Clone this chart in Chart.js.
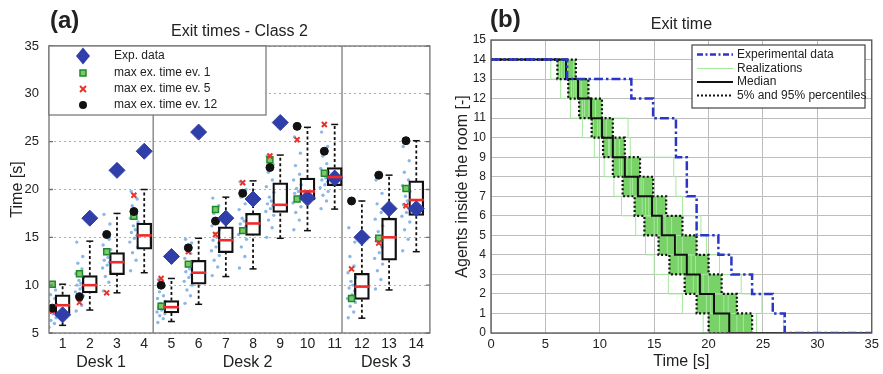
<!DOCTYPE html>
<html>
<head>
<meta charset="utf-8">
<script src="https://cdn.jsdelivr.net/npm/chart.js@4.4.1/dist/chart.umd.min.js"></script>
<style>
  html, body { margin: 0; padding: 0; background: #fff; }
  #wrap { position: relative; width: 883px; height: 374px; overflow: hidden; }
  #exitClass { position: absolute; left: 0; top: 0; }
  #exitTime { position: absolute; left: 440px; top: 0; }
</style>
</head>
<body>
<div id="wrap">
  <canvas id="exitClass" width="440" height="374"></canvas>
  <canvas id="exitTime" width="443" height="374"></canvas>
</div>
<script>
// ---------- panel (a): exit times per agent, class 2 ----------
const caseNums = [1, 2, 3, 4, 5, 6, 7, 8, 9, 10, 11, 12, 13, 14];
const deskNames = ['Desk 1', 'Desk 2', 'Desk 3'];
const deskEdges = [0.5, 4.33, 11.27, 14.5];
const timeTicks = [5, 10, 15, 20, 25, 30, 35];

const whiskLow  = [5.8, 7.4, 9.2, 11.3, 6.2, 8.0, 10.9, 11.7, 14.9, 15.7, 17.95, 6.55, 9.5, 13.5];
const boxLow    = [6.9, 9.2, 11.1, 13.75, 7.1, 10.1, 13.4, 15.2, 17.6, 18.9, 20.4, 8.5, 12.6, 17.3];
const boxMed    = [7.9, 10.0, 12.4, 15.2, 7.7, 11.3, 14.7, 16.45, 18.4, 19.8, 21.3, 9.85, 15.0, 18.9];
const boxHigh   = [9.0, 11.0, 13.4, 16.5, 8.4, 12.6, 16.1, 17.5, 20.7, 21.2, 22.3, 11.25, 17.0, 20.9];
const whiskHigh = [10.1, 14.6, 17.5, 20.0, 10.7, 14.9, 19.2, 20.9, 23.6, 26.5, 26.8, 18.8, 21.5, 25.1];

const expData = [6.9, 17.0, 22.0, 24.0, 13.0, 26.0, 17.0, 19.0, 27.0, 19.1, 21.2, 15.0, 18.0, 18.0];
const maxEv1  = [10.1, 11.2, 13.5, 17.2, 7.8, 12.2, 17.9, 15.7, 23.1, 19.0, 21.7, 8.6, 14.9, 20.1];
const maxEv5  = [7.3, 8.2, 9.2, 19.4, 10.7, 13.5, 15.3, 20.7, 23.5, 25.2, 26.8, 11.7, 14.4, 18.3];
const maxEv12 = [7.6, 8.8, 15.3, 17.7, 10.0, 13.9, 16.7, 19.6, 22.3, 26.6, 24.0, 18.8, 21.5, 25.1];

// simulated exit times (light blue cloud), one row per case
const simTimes = [
  [5.6, 6.0, 6.3, 6.6, 6.8, 7.0, 7.2, 7.4, 7.6, 7.8, 8.0, 8.3, 8.6, 9.0, 9.5, 10.0],
  [7.3, 7.9, 8.5, 8.9, 9.3, 9.6, 9.8, 10.0, 10.2, 10.5, 10.8, 11.2, 11.7, 12.3, 13.0, 14.5],
  [9.4, 10.3, 10.9, 11.4, 11.8, 12.1, 12.4, 12.6, 12.9, 13.3, 13.7, 14.2, 14.8, 15.5, 16.4, 17.4],
  [11.5, 12.6, 13.4, 14.0, 14.5, 14.9, 15.2, 15.5, 15.8, 16.2, 16.6, 17.0, 17.6, 18.3, 19.0, 19.8],
  [6.1, 6.5, 6.8, 7.0, 7.2, 7.4, 7.6, 7.7, 7.9, 8.1, 8.3, 8.6, 8.9, 9.3, 9.9, 10.6],
  [8.1, 8.9, 9.5, 10.0, 10.4, 10.8, 11.1, 11.4, 11.7, 12.0, 12.4, 12.8, 13.3, 13.9, 14.4, 14.8],
  [11.0, 11.9, 12.6, 13.1, 13.6, 14.0, 14.4, 14.7, 15.0, 15.4, 15.8, 16.2, 16.8, 17.5, 18.3, 19.1],
  [11.8, 13.0, 14.0, 14.8, 15.3, 15.8, 16.1, 16.4, 16.7, 17.0, 17.4, 17.9, 18.5, 19.2, 20.0, 20.8],
  [15.0, 16.0, 16.8, 17.3, 17.7, 18.0, 18.3, 18.5, 18.8, 19.2, 19.7, 20.3, 21.0, 21.8, 22.6, 23.5],
  [15.8, 16.8, 17.6, 18.2, 18.6, 19.0, 19.3, 19.6, 19.8, 20.1, 20.5, 21.0, 21.6, 22.5, 23.8, 25.5],
  [18.0, 18.8, 19.4, 19.8, 20.2, 20.5, 20.8, 21.0, 21.2, 21.5, 21.8, 22.2, 22.7, 23.5, 24.5, 26.0],
  [6.6, 7.2, 7.8, 8.2, 8.6, 9.0, 9.4, 9.7, 10.0, 10.4, 10.8, 11.3, 12.0, 13.0, 14.5, 16.0],
  [9.6, 10.6, 11.5, 12.2, 12.8, 13.4, 14.0, 14.6, 15.1, 15.6, 16.2, 16.9, 17.6, 18.5, 19.6, 21.0],
  [13.6, 14.8, 15.8, 16.6, 17.2, 17.6, 18.0, 18.4, 18.8, 19.3, 19.8, 20.4, 21.0, 21.8, 23.0, 24.5]
];
const simJitter = [-0.12, 0.08, -0.05, 0.14, -0.15, 0.02, 0.11, -0.09, 0.05, -0.02, 0.15, -0.13, 0.09, -0.06, 0.12, -0.1];

// ---------- panel (b): agents inside the room ----------
const agentTicks = [0, 1, 2, 3, 4, 5, 6, 7, 8, 9, 10, 11, 12, 13, 14, 15];
const secTicks = [0, 5, 10, 15, 20, 25, 30, 35];
const startAgents = 14;
// time of each successive exit (agent count drops by one at each)
const expExits    = [7.0, 12.9, 14.9, 17.0, 17.0, 18.0, 18.0, 18.9, 18.9, 20.9, 22.1, 24.0, 25.9, 27.0];
const medianExits = [6.9, 8.0, 9.2, 10.2, 11.2, 12.3, 13.5, 14.8, 15.7, 16.9, 18.0, 19.2, 20.5, 21.9];
const p5Exits     = [6.1, 7.1, 8.1, 9.25, 10.3, 11.2, 12.1, 13.2, 14.1, 15.4, 16.4, 17.8, 18.9, 20.0];
const p95Exits    = [7.8, 8.95, 10.2, 11.2, 12.3, 13.7, 14.9, 16.1, 17.6, 18.9, 20.0, 21.2, 22.6, 24.0];
const runExits = [
  [5.5, 6.4, 7.3, 8.4, 9.5, 10.4, 11.3, 12.0, 13.3, 14.2, 15.0, 16.3, 17.6, 19.5],
  [7.6, 9.0, 10.2, 12.6, 12.8, 16.8, 17.0, 17.6, 19.3, 19.8, 21.0, 23.0, 24.9, 26.9],
  [6.5, 7.6, 8.6, 9.8, 10.8, 11.8, 13.0, 14.2, 15.3, 16.2, 17.5, 18.6, 20.2, 21.0],
  [7.0, 8.3, 9.6, 10.6, 11.8, 12.9, 14.0, 15.2, 16.6, 17.6, 18.8, 20.0, 21.4, 22.6],
  [6.3, 7.8, 8.4, 9.4, 10.9, 12.0, 12.8, 13.9, 15.0, 16.8, 17.2, 19.5, 19.8, 23.2],
  [6.8, 7.4, 9.0, 10.0, 11.4, 12.5, 13.8, 14.5, 16.0, 17.0, 18.4, 19.0, 21.8, 24.4]
];

const fontFam = '"Liberation Sans", Arial, Helvetica, sans-serif';
Chart.defaults.font.family = fontFam;
Chart.defaults.color = '#333';

const markShift = -0.38; // markers and cloud sit left of each box
const blue = '#2f3ea8';

function ticksFrom(list) {
  return function (scale) { scale.ticks = list.map(v => ({ value: v })); };
}

// whisker segments, broken with null points
const whiskerPts = [];
const capPts = [];
caseNums.forEach((c, i) => {
  whiskerPts.push({ x: c, y: boxHigh[i] }, { x: c, y: whiskHigh[i] }, { x: c, y: null });
  whiskerPts.push({ x: c, y: whiskLow[i] }, { x: c, y: boxLow[i] }, { x: c, y: null });
  capPts.push({ x: c, y: whiskLow[i] }, { x: c, y: whiskHigh[i] });
});
const cloudPts = [];
simTimes.forEach((row, i) => {
  row.forEach((v, j) => cloudPts.push({ x: caseNums[i] + markShift + simJitter[j], y: v }));
});
const shifted = arr => caseNums.map((c, i) => ({ x: c + markShift, y: arr[i] }));

const panelA = {
  id: 'panelA',
  beforeDatasetsDraw(chart) {
    const { ctx, chartArea: a, scales: { x } } = chart;
    ctx.save();
    ctx.strokeStyle = '#8c8c8c';
    ctx.lineWidth = 1.5;
    deskEdges.slice(1, -1).forEach(v => {
      const px = x.getPixelForValue(v);
      ctx.beginPath(); ctx.moveTo(px, a.top); ctx.lineTo(px, a.bottom); ctx.stroke();
    });
    ctx.restore();
  },
  afterDraw(chart) {
    const { ctx, chartArea: a, scales: { x, y } } = chart;
    ctx.save();
    ctx.strokeStyle = '#707070';
    ctx.lineWidth = 1.3;
    ctx.strokeRect(a.left, a.top, a.right - a.left, a.bottom - a.top);
    timeTicks.forEach(v => {
      const py = y.getPixelForValue(v);
      ctx.beginPath();
      ctx.moveTo(a.left, py); ctx.lineTo(a.left + 4, py);
      ctx.moveTo(a.right, py); ctx.lineTo(a.right - 4, py);
      ctx.stroke();
    });

    ctx.fillStyle = '#222';
    ctx.textAlign = 'center';
    ctx.textBaseline = 'middle';
    ctx.font = '16px ' + fontFam;
    deskNames.forEach((n, i) => {
      ctx.fillText(n, x.getPixelForValue((deskEdges[i] + deskEdges[i + 1]) / 2), 363);
    });
    ctx.fillText('Exit times - Class 2', (a.left + a.right) / 2, 32);
    ctx.font = 'bold 24px ' + fontFam;
    ctx.textAlign = 'left';
    ctx.fillText('(a)', 50, 21);

    // legend
    ctx.fillStyle = '#fff';
    ctx.fillRect(a.left, a.top, 266 - a.left, 115 - a.top);
    ctx.strokeStyle = '#707070';
    ctx.lineWidth = 1.2;
    ctx.strokeRect(a.left, a.top, 266 - a.left, 115 - a.top);
    const rows = [56, 73, 89, 105];
    const mx = 83;
    ctx.fillStyle = blue;
    ctx.beginPath();
    ctx.moveTo(mx, rows[0] - 8.5); ctx.lineTo(mx + 7, rows[0]);
    ctx.lineTo(mx, rows[0] + 8.5); ctx.lineTo(mx - 7, rows[0]);
    ctx.closePath(); ctx.fill();
    ctx.fillStyle = '#7cc86b'; ctx.strokeStyle = '#1f8a2a'; ctx.lineWidth = 1.5;
    ctx.fillRect(mx - 3, rows[1] - 3, 6, 6); ctx.strokeRect(mx - 3, rows[1] - 3, 6, 6);
    ctx.strokeStyle = '#e8332b'; ctx.lineWidth = 2;
    ctx.beginPath();
    ctx.moveTo(mx - 3, rows[2] - 3); ctx.lineTo(mx + 3, rows[2] + 3);
    ctx.moveTo(mx + 3, rows[2] - 3); ctx.lineTo(mx - 3, rows[2] + 3);
    ctx.stroke();
    ctx.fillStyle = '#111';
    ctx.beginPath(); ctx.arc(mx, rows[3], 4, 0, Math.PI * 2); ctx.fill();
    ctx.fillStyle = '#222';
    ctx.font = '12px ' + fontFam;
    ['Exp. data', 'max ex. time ev. 1', 'max ex. time ev. 5', 'max ex. time ev. 12']
      .forEach((t, i) => ctx.fillText(t, 114, rows[i]));
    ctx.restore();
  }
};

new Chart(document.getElementById('exitClass'), {
  type: 'scatter',
  data: {
    datasets: [
      { label: 'median', data: caseNums.map((c, i) => ({ x: c, y: boxMed[i] })),
        pointStyle: 'line', pointRadius: 7.5, pointBorderColor: '#f02a2a', pointBorderWidth: 2.6 },
      { label: 'Exp. data', data: caseNums.map((c, i) => ({ x: c, y: expData[i] })),
        pointStyle: 'rectRot', pointRadius: 8, pointBackgroundColor: blue, pointBorderColor: blue, pointBorderWidth: 1 },
      { label: 'max ex. time ev. 12', data: shifted(maxEv12),
        pointStyle: 'circle', pointRadius: 4, pointBackgroundColor: '#111', pointBorderColor: '#111', pointBorderWidth: 1 },
      { label: 'max ex. time ev. 5', data: shifted(maxEv5),
        pointStyle: 'crossRot', pointRadius: 3.5, pointBorderColor: '#e8332b', pointBorderWidth: 2 },
      { label: 'max ex. time ev. 1', data: shifted(maxEv1),
        pointStyle: 'rect', pointRadius: 4.2, pointBackgroundColor: '#7cc86b', pointBorderColor: '#1f8a2a', pointBorderWidth: 1.5 },
      { type: 'bar', label: 'box', data: caseNums.map((c, i) => ({ x: c, y: [boxLow[i], boxHigh[i]] })),
        barThickness: 15, backgroundColor: 'rgba(255,255,255,0)', borderColor: '#111', borderWidth: 1.6, borderSkipped: false },
      { label: 'caps', data: capPts, pointStyle: 'line', pointRadius: 3.5, pointBorderColor: '#111', pointBorderWidth: 1.5 },
      { type: 'line', label: 'whiskers', data: whiskerPts, spanGaps: false, borderColor: '#111',
        borderWidth: 1.8, borderDash: [3, 2.5], pointRadius: 0, fill: false },
      { label: 'simulated', data: cloudPts, pointRadius: 1.7, pointBackgroundColor: 'rgba(110,165,225,0.8)', pointBorderWidth: 0 }
    ]
  },
  options: {
    responsive: false,
    devicePixelRatio: 1,
    animation: false,
    layout: { padding: { left: 0, top: 46, right: 8, bottom: 0 } },
    plugins: { legend: { display: false }, tooltip: { enabled: false } },
    scales: {
      x: {
        type: 'linear', min: 0.5, max: 14.5, offset: false,
        afterBuildTicks: ticksFrom(caseNums),
        afterFit(s) { s.height = 41; },
        grid: { display: false, drawTicks: false, offset: false },
        border: { display: false },
        ticks: { font: { size: 14 }, color: '#222', padding: 3, maxRotation: 0, autoSkip: false }
      },
      y: {
        min: 5, max: 35,
        afterBuildTicks: ticksFrom(timeTicks),
        afterFit(s) { s.width = 49; },
        grid: { color: '#b0b0b0', drawTicks: false },
        border: { display: false, dash: [2, 3] },
        ticks: { font: { size: 13 }, color: '#222', padding: 10 },
        title: { display: true, text: 'Time [s]', font: { size: 16 }, color: '#222', padding: { top: 8, bottom: 0 } }
      }
    }
  },
  plugins: [panelA]
});

// ---------- panel (b) ----------
function stepPoints(exits) {
  const pts = [{ x: secTicks[0], y: startAgents }];
  exits.forEach((t, k) => pts.push({ x: t, y: startAgents - k - 1 }));
  pts.push({ x: secTicks[secTicks.length - 1], y: 0 });
  return pts;
}

const panelB = {
  id: 'panelB',
  afterDraw(chart) {
    const { ctx, chartArea: a } = chart;
    ctx.save();
    ctx.strokeStyle = '#555';
    ctx.lineWidth = 1.3;
    ctx.strokeRect(a.left, a.top, a.right - a.left, a.bottom - a.top);

    ctx.fillStyle = '#222';
    ctx.textBaseline = 'middle';
    ctx.textAlign = 'center';
    ctx.font = '16px ' + fontFam;
    ctx.fillText('Exit time', (a.left + a.right) / 2, 25);
    ctx.textAlign = 'left';
    ctx.font = 'bold 24px ' + fontFam;
    ctx.fillText('(b)', 50, 20);

    // legend
    const bx = 252, by = 45, bw = 173, bh = 63;
    ctx.fillStyle = '#fff';
    ctx.fillRect(bx, by, bw, bh);
    ctx.strokeStyle = '#444';
    ctx.lineWidth = 1.2;
    ctx.strokeRect(bx, by, bw, bh);
    const rows = [54.5, 68.5, 82, 95.5];
    const styles = [
      { c: '#2a36c8', w: 2.5, d: [6, 2.5, 2, 2.5] },
      { c: '#a6e89e', w: 1.2, d: [] },
      { c: '#111', w: 2, d: [] },
      { c: '#111', w: 2, d: [2, 2] }
    ];
    styles.forEach((s, i) => {
      ctx.strokeStyle = s.c; ctx.lineWidth = s.w; ctx.setLineDash(s.d);
      ctx.beginPath(); ctx.moveTo(257, rows[i]); ctx.lineTo(293, rows[i]); ctx.stroke();
    });
    ctx.setLineDash([]);
    ctx.fillStyle = '#222';
    ctx.font = '12px ' + fontFam;
    ['Experimental data', 'Realizations', 'Median', '5% and 95% percentiles']
      .forEach((t, i) => ctx.fillText(t, 297, rows[i]));
    ctx.restore();
  }
};

const runSets = runExits.map((r, i) => ({
  label: 'run ' + (i + 1), data: stepPoints(r), stepped: true,
  borderColor: '#a6e89e', borderWidth: 1, pointRadius: 0, fill: false
}));

new Chart(document.getElementById('exitTime'), {
  type: 'line',
  data: {
    datasets: [
      { label: 'Experimental data', data: stepPoints(expExits), stepped: true,
        borderColor: '#2a36c8', borderWidth: 2.5, borderDash: [9, 3, 2.5, 3], pointRadius: 0, fill: false },
      { label: 'Median', data: stepPoints(medianExits), stepped: true,
        borderColor: '#111', borderWidth: 2, pointRadius: 0, fill: false },
      { label: '5%', data: stepPoints(p5Exits), stepped: true,
        borderColor: '#111', borderWidth: 2.2, borderDash: [2, 2.2], pointRadius: 0,
        fill: '+1', backgroundColor: 'rgb(120, 210, 104)' },
      { label: '95%', data: stepPoints(p95Exits), stepped: true,
        borderColor: '#111', borderWidth: 2.2, borderDash: [2, 2.2], pointRadius: 0, fill: false },
      ...runSets
    ]
  },
  options: {
    responsive: false,
    devicePixelRatio: 1,
    animation: false,
    layout: { padding: { left: 0, top: 40, right: 11, bottom: 0 } },
    plugins: {
      legend: { display: false },
      tooltip: { enabled: false },
      filler: { drawTime: 'beforeDatasetsDraw' }
    },
    scales: {
      x: {
        type: 'linear', min: 0, max: 35,
        afterBuildTicks: ticksFrom(secTicks),
        afterFit(s) { s.height = 41; },
        grid: { color: '#bdbdbd', drawTicks: false },
        border: { display: false },
        ticks: { font: { size: 13 }, color: '#222', padding: 4, maxRotation: 0 },
        title: { display: true, text: 'Time [s]', font: { size: 16 }, color: '#222', padding: { top: 0, bottom: 3 } }
      },
      y: {
        type: 'linear', min: 0, max: 15,
        afterBuildTicks: ticksFrom(agentTicks),
        afterFit(s) { s.width = 51; },
        grid: { color: '#bdbdbd', drawTicks: false },
        border: { display: false },
        ticks: { font: { size: 12 }, color: '#222', padding: 5 },
        title: { display: true, text: 'Agents inside the room [-]', font: { size: 16 }, color: '#222', padding: { top: 13, bottom: 0 } }
      }
    }
  },
  plugins: [panelB]
});
</script>
</body>
</html>
